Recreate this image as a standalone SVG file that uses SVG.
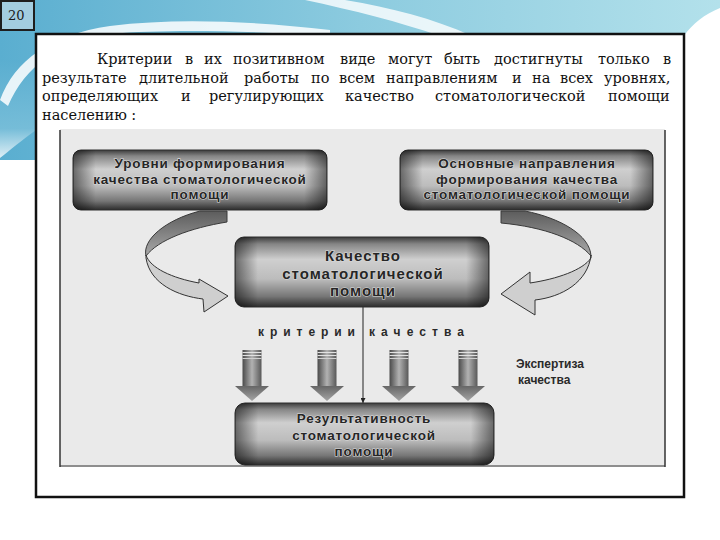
<svg xmlns="http://www.w3.org/2000/svg" width="720" height="540" viewBox="0 0 720 540">
<defs>
  <linearGradient id="sky" x1="0" y1="0" x2="1" y2="0">
    <stop offset="0" stop-color="#5aaed0"/>
    <stop offset="0.5" stop-color="#8ccbdf"/>
    <stop offset="1" stop-color="#b3e1eb"/>
  </linearGradient>
  <linearGradient id="leftfade" x1="0" y1="0" x2="0" y2="1">
    <stop offset="0" stop-color="#5aaed0"/>
    <stop offset="0.7" stop-color="#7cc0da"/>
    <stop offset="1" stop-color="#ffffff"/>
  </linearGradient>
  <linearGradient id="boxv" x1="0" y1="0" x2="0" y2="1">
    <stop offset="0" stop-color="#3c3c3c"/>
    <stop offset="0.1" stop-color="#858585"/>
    <stop offset="0.32" stop-color="#cfcfcf"/>
    <stop offset="0.6" stop-color="#bcbcbc"/>
    <stop offset="0.85" stop-color="#767676"/>
    <stop offset="1" stop-color="#2c2c2c"/>
  </linearGradient>
  <linearGradient id="boxh" x1="0" y1="0" x2="1" y2="0">
    <stop offset="0" stop-color="#000" stop-opacity="0.5"/>
    <stop offset="0.09" stop-color="#000" stop-opacity="0"/>
    <stop offset="0.91" stop-color="#000" stop-opacity="0"/>
    <stop offset="1" stop-color="#000" stop-opacity="0.5"/>
  </linearGradient>
  <linearGradient id="band" x1="0" y1="0" x2="0" y2="1">
    <stop offset="0" stop-color="#5c5c5c"/>
    <stop offset="1" stop-color="#a9a9a9"/>
  </linearGradient>
  <linearGradient id="shaft" x1="0" y1="0" x2="1" y2="0">
    <stop offset="0" stop-color="#4a4a4a"/>
    <stop offset="0.5" stop-color="#b2b2b2"/>
    <stop offset="1" stop-color="#585858"/>
  </linearGradient>
  <linearGradient id="head" x1="0" y1="0" x2="0" y2="1">
    <stop offset="0" stop-color="#666666"/>
    <stop offset="1" stop-color="#a4a4a4"/>
  </linearGradient>
  <marker id="tip" viewBox="0 0 6 6" refX="6" refY="3" markerWidth="5" markerHeight="5" orient="auto" markerUnits="userSpaceOnUse">
    <path d="M0,0 L6,3 L0,6 Z" fill="#222"/>
  </marker>
  <g id="darr">
    <rect x="-9.5" y="0" width="19" height="37" fill="url(#shaft)"/>
    <line x1="-9.5" y1="2.5" x2="9.5" y2="2.5" stroke="#e2e2e2" stroke-width="1"/>
    <line x1="-9.5" y1="5.5" x2="9.5" y2="5.5" stroke="#e2e2e2" stroke-width="1"/>
    <line x1="-9.5" y1="8.5" x2="9.5" y2="8.5" stroke="#d0d0d0" stroke-width="1"/>
    <path d="M-17,36 L17,36 L0,51 Z" fill="url(#head)"/>
  </g>
  <style>
    .t { font-family: "DejaVu Serif", "Liberation Serif", serif; font-size: 14.5px; fill: #111111; }
    .b { font-family: "Liberation Sans", Arial, sans-serif; font-weight: bold; font-size: 13.5px; fill: #262626; text-anchor: middle; letter-spacing: 0.8px; stroke: #dadada; stroke-width: 1.2px; paint-order: stroke; }
    .bq { font-size: 15px; letter-spacing: 1px; }
    .s { font-family: "Liberation Sans", Arial, sans-serif; font-weight: bold; font-size: 12px; fill: #2a2a2a; }
    .box { fill: url(#boxv); stroke: #2e2e2e; stroke-width: 1; }
    .shade { fill: url(#boxh); }
    .band { fill: url(#band); stroke: #3a3a3a; stroke-width: 1; }
    .light { fill: #cfcfcf; stroke: #333; stroke-width: 1; }
  </style>
</defs>

<!-- background -->
<rect x="0" y="0" width="720" height="540" fill="#ffffff"/>
<path d="M0,0 H720 V8 C705,14 692,24 684,36 L36,36 L36,160 L0,160 Z" fill="url(#sky)"/>
<path d="M0,60 L36,60 L36,130 C22,140 10,150 0,158 Z" fill="url(#leftfade)" opacity="0.8"/>
<path d="M0,100 C15,60 50,35 110,26 C180,17 260,22 330,30 L330,36 C250,31 170,29 110,34 C60,41 25,66 8,106 Z" fill="#ffffff" opacity="0.85"/>
<path d="M305,0 L345,0 C392,8 432,18 472,36 L440,36 C400,22 352,10 305,0 Z" fill="#ffffff" opacity="0.8"/>

<!-- slide number -->
<g id="slide-number">
  <rect x="1" y="1" width="33" height="29" fill="#a3cde0" stroke="#1e1e1e" stroke-width="2"/>
  <text x="8" y="20" font-family="DejaVu Serif, serif" font-size="13" fill="#1a1a1a">20</text>
</g>

<!-- main frame -->
<rect x="36" y="34" width="648" height="463" fill="#ffffff" stroke="#111" stroke-width="2.5"/>

<!-- paragraph -->
<g id="paragraph" class="t">
  <text y="64"><tspan x="97">Критерии</tspan><tspan x="185">в</tspan><tspan x="204">их</tspan><tspan x="233">позитивном</tspan><tspan x="340">виде</tspan><tspan x="388">могут</tspan><tspan x="444">быть</tspan><tspan x="494">достигнуты</tspan><tspan x="598">только</tspan><tspan x="663">в</tspan></text>
  <text y="83"><tspan x="42">результате</tspan><tspan x="139">длительной</tspan><tspan x="244">работы</tspan><tspan x="311">по</tspan><tspan x="339">всем</tspan><tspan x="386">направлениям</tspan><tspan x="512">и</tspan><tspan x="532">на</tspan><tspan x="560">всех</tspan><tspan x="604">уровнях,</tspan></text>
  <text y="101"><tspan x="42">определяющих</tspan><tspan x="181">и</tspan><tspan x="209">регулирующих</tspan><tspan x="345">качество</tspan><tspan x="435">стоматологической</tspan><tspan x="608">помощи</tspan></text>
  <text y="120" x="42">населению :</text>
</g>

<!-- scanned figure area -->
<rect x="60" y="129" width="605" height="338" fill="#eaeaea"/>
<line x1="60" y1="130" x2="60" y2="467" stroke="#333" stroke-width="1.5"/>
<line x1="665" y1="130" x2="665" y2="467" stroke="#333" stroke-width="1.5"/>
<line x1="60" y1="466" x2="665" y2="466" stroke="#333" stroke-width="1.2"/>

<!-- connectors -->
<g id="connectors">
  <!-- left curved arrow -->
  <path class="band" d="M200,211 L227,211 L227,222 C190,228 158,240 146,256 C142,240 165,220 200,211 Z"/>
  <path class="light" d="M146,255 C150,268 172,278 199,283 L199,279 L228,296 L204,312 L203,299 C178,296 150,284 146,258 Z"/>
  <!-- right curved arrow -->
  <path class="band" d="M501,211 L525,211 C560,218 590,235 591,256 C578,240 545,227 501,223 Z"/>
  <path class="light" d="M591,255 C588,282 562,297 535,300 L535,315 L501,294 L530,272 L530,283 C557,279 583,270 591,258 Z"/>
  <!-- criteria arrows -->
  <use href="#darr" transform="translate(252,350)"/>
  <use href="#darr" transform="translate(327,350)"/>
  <use href="#darr" transform="translate(399,350)"/>
  <use href="#darr" transform="translate(468,350)"/>
  <!-- vertical connector -->
  <line x1="363" y1="307" x2="363" y2="403" stroke="#222" stroke-width="1" marker-end="url(#tip)"/>
</g>

<!-- nodes -->
<g id="n-levels">
  <rect class="box" x="73" y="150" width="254" height="60" rx="8"/>
  <rect class="shade" x="73" y="150" width="254" height="60" rx="8"/>
  <text class="b" x="200" y="168">Уровни формирования</text>
  <text class="b" x="200" y="183.5">качества стоматологической</text>
  <text class="b" x="200" y="199">помощи</text>
</g>

<g id="n-directions">
  <rect class="box" x="400" y="150" width="253" height="60" rx="8"/>
  <rect class="shade" x="400" y="150" width="253" height="60" rx="8"/>
  <text class="b" x="527" y="168">Основные направления</text>
  <text class="b" x="527" y="183.5">формирования качества</text>
  <text class="b" x="527" y="199">стоматологической помощи</text>
</g>

<g id="n-quality">
  <rect class="box" x="235" y="237" width="254" height="70" rx="9"/>
  <rect class="shade" x="235" y="237" width="254" height="70" rx="9"/>
  <text class="b bq" x="363" y="261">Качество</text>
  <text class="b bq" x="363" y="278.5">стоматологической</text>
  <text class="b bq" x="363" y="296">помощи</text>
</g>

<g id="n-criteria-label">
  <text class="s" x="258" y="336" font-size="13" textLength="97" lengthAdjust="spacing">критерии</text>
  <text class="s" x="369" y="336" font-size="13" textLength="95" lengthAdjust="spacing">качества</text>
</g>

<g id="n-expertise">
  <text class="s" x="516" y="368">Экспертиза</text>
  <text class="s" x="518" y="384">качества</text>
</g>

<g id="n-result">
  <rect class="box" x="235" y="403" width="259" height="62" rx="10"/>
  <rect class="shade" x="235" y="403" width="259" height="62" rx="10"/>
  <text class="b" x="364" y="423">Результативность</text>
  <text class="b" x="364" y="440">стоматологической</text>
  <text class="b" x="364" y="456">помощи</text>
</g>
</svg>
